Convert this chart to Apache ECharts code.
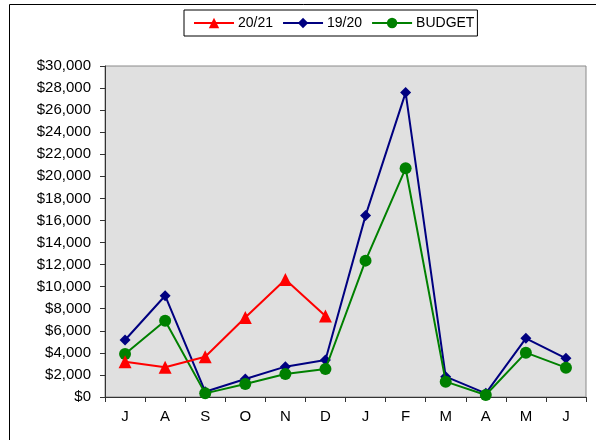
<!DOCTYPE html>
<html>
<head>
<meta charset="utf-8">
<script src="https://cdn.jsdelivr.net/npm/echarts@6/dist/echarts.min.js"></script>
<style>
  html, body { margin: 0; padding: 0; background: #ffffff; }
  #chart { width: 596px; height: 440px; }
</style>
</head>
<body>
<div id="chart"></div>
<script>
// Months of the financial year, July to June
const months = ['J', 'A', 'S', 'O', 'N', 'D', 'J', 'F', 'M', 'A', 'M', 'J'];

// Monthly takings in dollars
const current = [3200, 2700, 3650, 7200, 10650, 7350, null, null, null, null, null, null]; // 20/21
const previous = [5170, 9180, 480, 1630, 2750, 3350, 16440, 27590, 1840, 330, 5320, 3510]; // 19/20
const budget = [3900, 6920, 330, 1180, 2090, 2540, 12360, 20730, 1390, 180, 4020, 2660];

const seriesNames = ['20/21', '19/20', 'BUDGET'];

// Value axis range and step
const yMin = 0;
const yMax = 30000;
const yStep = 2000;

const FONT = '"Liberation Sans", Arial, sans-serif';

function money(v) {
  return '$' + v.toString().replace(/\B(?=(\d{3})+(?!\d))/g, ',');
}

const chart = echarts.init(document.getElementById('chart'), null, { renderer: 'canvas' });

chart.setOption({
  animation: false,
  backgroundColor: '#ffffff',
  textStyle: { fontFamily: FONT, color: '#000000' },
  graphic: [{
    type: 'rect',
    shape: { x: 9.5, y: 4.5, width: 620, height: 460 },
    style: { fill: 'none', stroke: '#000000', lineWidth: 1 },
    silent: true,
    z: -1
  }],
  legend: {
    data: seriesNames,
    left: 184,
    top: 10,
    orient: 'horizontal',
    itemWidth: 40,
    itemHeight: 13,
    itemGap: 9,
    padding: [6, 3, 6, 9],
    borderColor: '#000000',
    borderWidth: 1,
    backgroundColor: '#ffffff',
    textStyle: { fontFamily: FONT, fontSize: 14, color: '#000000', padding: [0, 0, 0, -1] }
  },
  grid: {
    left: 105,
    right: 10,
    top: 66,
    bottom: 43,
    show: true,
    backgroundColor: '#e0e0e0',
    borderColor: '#8a8a8a',
    borderWidth: 1,
    containLabel: false
  },
  xAxis: {
    type: 'category',
    data: months,
    boundaryGap: true,
    axisLine: { lineStyle: { color: '#333333', width: 1 } },
    axisTick: { show: true, inside: false, length: 5, lineStyle: { color: '#333333' } },
    axisLabel: { fontFamily: FONT, fontSize: 15, color: '#000000', margin: 12 },
    splitLine: { show: false }
  },
  yAxis: {
    type: 'value',
    min: yMin,
    max: yMax,
    interval: yStep,
    axisLine: { show: true, lineStyle: { color: '#333333', width: 1 } },
    axisTick: { show: true, inside: false, length: 5, lineStyle: { color: '#333333' } },
    axisLabel: { fontFamily: FONT, fontSize: 15, color: '#000000', margin: 14, formatter: money },
    splitLine: { show: false }
  },
  series: [
    {
      name: '19/20',
      type: 'line',
      data: previous,
      color: '#000080',
      lineStyle: { width: 2, color: '#000080' },
      symbol: 'diamond',
      symbolSize: 11,
      showAllSymbol: true,
      itemStyle: { color: '#000080' },
      z: 2
    },
    {
      name: 'BUDGET',
      type: 'line',
      data: budget,
      color: '#008000',
      lineStyle: { width: 2, color: '#008000' },
      symbol: 'circle',
      symbolSize: 12,
      showAllSymbol: true,
      itemStyle: { color: '#008000' },
      z: 3
    },
    {
      name: '20/21',
      type: 'line',
      data: current,
      color: '#ff0000',
      lineStyle: { width: 2, color: '#ff0000' },
      symbol: 'triangle',
      symbolSize: 13,
      showAllSymbol: true,
      itemStyle: { color: '#ff0000' },
      z: 4
    }
  ]
});
</script>
</body>
</html>
